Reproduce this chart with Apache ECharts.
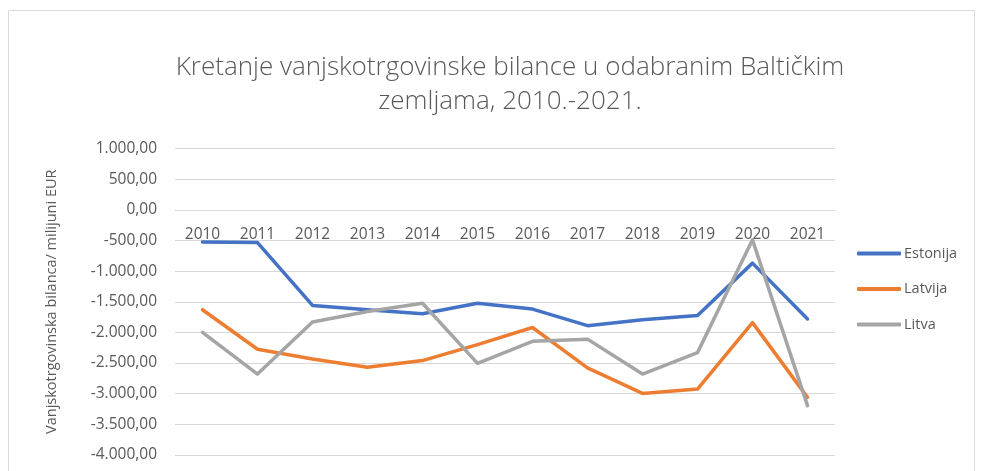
<!DOCTYPE html>
<html><head><meta charset="utf-8">
<script src="https://cdn.jsdelivr.net/npm/echarts@6/dist/echarts.min.js"></script>
<style>html,body{margin:0;padding:0;background:#fff}#c{width:982px;height:471px}</style>
</head><body><div id="c"></div>
<script>
var years = ['2010','2011','2012','2013','2014','2015','2016','2017','2018','2019','2020','2021'];
var estonia = [-525,-535,-1560,-1630,-1695,-1523,-1620,-1890,-1795,-1725,-870,-1780];
var latvija = [-1630,-2275,-2435,-2570,-2460,-2200,-1920,-2580,-2995,-2925,-1840,-3060];
var litva = [-2000,-2680,-1830,-1660,-1525,-2505,-2145,-2110,-2680,-2330,-490,-3195];
var yTicks = {min:-4000, max:1000, interval:500};

function fmt(v){
  var neg = v < 0; var a = Math.abs(Math.round(v));
  var s = String(a).replace(/\B(?=(\d{3})+(?!\d))/g, '.');
  return (neg ? '-' : '') + s + ',00';
}
var font = 'Open Sans';
var chart = echarts.init(document.getElementById('c'));
function ser(name, data, color){
  return {name:name, type:'line', data:data, symbol:'none', smooth:false,
    lineStyle:{color:color, width:3.5, cap:'round', join:'round'}, itemStyle:{color:color}};
}
chart.setOption({
  animation:false,
  textStyle:{fontFamily:font},
  title:{text:'Kretanje vanjskotrgovinske bilance u odabranim Baltičkim\nzemljama, 2010.-2021.',
    left:505, textAlign:'center', top:46,
    textStyle:{fontFamily:font, fontWeight:300, fontSize:26, color:'#595959', lineHeight:34}},
  graphic:[{type:'rect', shape:{x:8.5,y:10.5,width:966,height:480}, style:{fill:'none', stroke:'#D9D9D9', lineWidth:1}, silent:true}],
  legend:{orient:'vertical', left:852, top:241, itemWidth:44, itemHeight:4, itemGap:20.5, icon:'roundRect',
    textStyle:{fontFamily:font, fontSize:14.5, color:'#595959', padding:[0,0,0,-2]},
    data:['Estonija','Latvija','Litva']},
  grid:{left:175, right:147, top:148.5, bottom:16, containLabel:false},
  xAxis:{type:'category', data:years, boundaryGap:true, position:'bottom', offset:-245.5,
    axisLine:{show:false, onZero:false},
    axisTick:{show:false},
    axisLabel:{fontFamily:font, fontSize:15.5, color:'#595959', margin:17},
    splitLine:{show:false}},
  yAxis:{type:'value', min:yTicks.min, max:yTicks.max, interval:yTicks.interval,
    name:'Vanjskotrgovinska bilanca/ milijuni EUR', nameLocation:'middle', nameGap:116, nameRotate:90,
    nameTextStyle:{fontFamily:font, fontSize:14.5, color:'#595959'},
    axisLine:{show:false}, axisTick:{show:false},
    axisLabel:{fontFamily:font, fontSize:15.5, color:'#595959', margin:18, formatter:fmt},
    splitLine:{lineStyle:{color:'#D9D9D9', width:1}}},
  series:[ser('Estonija', estonia, '#4472C4'), ser('Latvija', latvija, '#ED7D31'), ser('Litva', litva, '#A5A5A5')]
});
</script></body></html>
